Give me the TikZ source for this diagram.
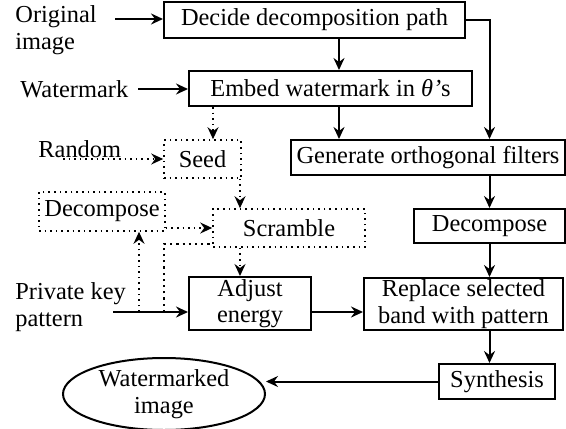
\documentclass[tikz,border=0pt]{standalone}
\usepackage{fontspec}
\setmainfont{Liberation Serif}
\usetikzlibrary{arrows.meta,shapes.geometric}

\begin{document}
\begin{tikzpicture}[x=0.5pt,y=-0.5pt,
    every node/.style={font=\fontsize{12.2}{13.3}\selectfont, inner sep=0pt},
    box/.style={draw, line width=1pt, align=center},
    dbox/.style={draw, dotted, line width=0.8pt, align=center},
    arr/.style={line width=1pt, -{Stealth[length=6pt,width=5.5pt,inset=2pt]}},
    darr/.style={dotted, line width=0.8pt, -{Stealth[length=6pt,width=5.5pt,inset=2pt]}}]
\useasboundingbox (0,0) rectangle (566,428);
\node[box, minimum width=150.5pt, minimum height=18pt] (dec) at (314.5,20) {Decide decomposition path};
\node[box, minimum width=141.5pt, minimum height=17.5pt] (emb) at (330.5,88.5) {Embed watermark in \textit{θ’}s};
\node[dbox, minimum width=38.5pt, minimum height=19pt] (seed) at (202.5,159) {Seed};
\node[dbox, minimum width=63pt, minimum height=19.5pt] (decl) at (102,211.5) {Decompose};
\node[dbox, minimum width=76pt, minimum height=19pt] (scr) at (289,228) {Scramble};
\node[box, minimum width=61pt, minimum height=26.5pt] (adj) at (250,303.5) {Adjust\\energy};
\node[box, minimum width=137pt, minimum height=17.5pt] (gen) at (428,157.5) {Generate orthogonal filters};
\node[box, minimum width=75.5pt, minimum height=17pt] (decr) at (489.5,226) {Decompose};
\node[box, minimum width=99.5pt, minimum height=26pt] (rep) at (463.5,304) {Replace selected\\band with pattern};
\node[box, minimum width=58pt, minimum height=17.5pt] (syn) at (497,381.5) {Synthesis};
\node[ellipse, draw, line width=1pt, align=center, minimum width=101pt, minimum height=36pt] (ell) at (164,394) {Watermarked\\image};

\node[align=left, anchor=west] (orig) at (15,30) {Original\\image};
\node[anchor=west] (wm) at (20,89) {Watermark};
\node[anchor=west] (rand) at (38,149) {Random};
\node[align=left, anchor=west] (pkp) at (15,307) {Private key\\pattern};

\coordinate (os) at (115,19);
\coordinate (ws) at (138,89);
\coordinate (rs) at (63,159);
\coordinate (pk) at (113,312);
\coordinate (pk1) at (139,312);
\coordinate (pk2) at (164,312);
\coordinate (cx) at (339,0);
\coordinate (ex) at (213,0);
\coordinate (sx) at (240,0);

\draw[arr] (os) -- (os -| dec.west);
\draw[arr] (ws) -- (ws -| emb.west);
\draw[darr] (rs) -- (rs -| seed.west);
\draw[arr] (pk) -- (pk -| adj.west);
\draw[darr] (pk1) -- (pk1 |- decl.south);
\draw[dotted, line width=1.1pt] (pk2) |- ([yshift=2pt]scr.south west);

\draw[arr] (dec.south -| cx) -- (emb.north -| cx);
\draw[arr] (emb.south -| cx) -- (gen.north -| cx);
\draw[arr] (dec.east) -| (gen.north -| decr);
\draw[darr] (emb.south -| ex) -- (seed.north -| ex);
\draw[darr] (seed.south -| sx) -- (scr.north -| sx);
\draw[darr] (scr.south -| sx) -- (adj.north -| sx);
\draw[darr] (decl.east |- scr) -- (scr.west);
\draw[arr] (adj.east |- pk) -- (rep.west |- pk);
\draw[arr] (gen.south -| decr) -- (decr.north);
\draw[arr] (decr.south) -- (rep.north -| decr);
\draw[arr] (rep.south -| decr) -- (syn.north -| decr);
\draw[arr] (syn.west) -- (ell.east |- syn.west);
\end{tikzpicture}
\end{document}
